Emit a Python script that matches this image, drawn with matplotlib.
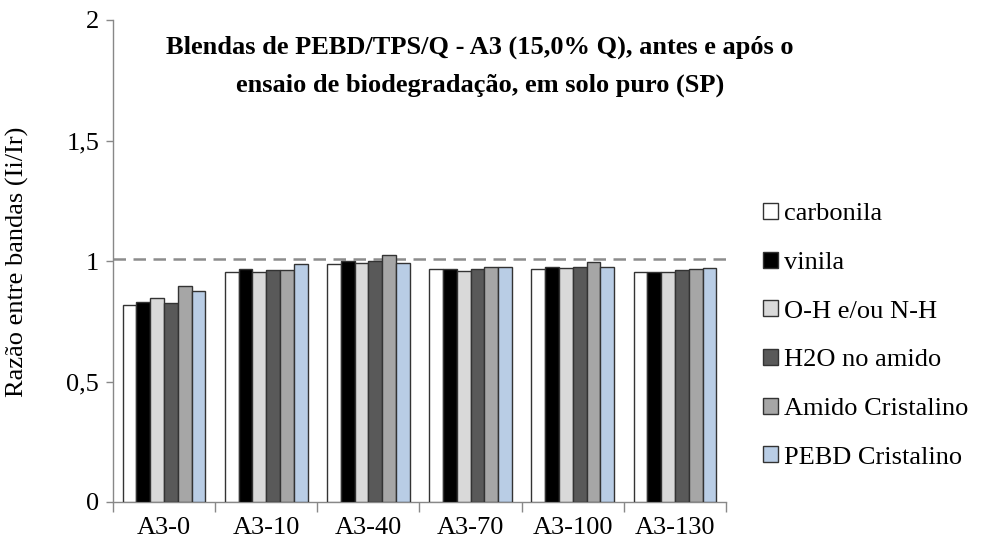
import matplotlib
matplotlib.use("Agg")
import matplotlib.pyplot as plt
import numpy as np
from matplotlib.patches import Patch

categories = ["A3-0", "A3-10", "A3-40", "A3-70", "A3-100", "A3-130"]
series_names = ["carbonila", "vinila", "O-H e/ou N-H", "H2O no amido",
                "Amido Cristalino", "PEBD Cristalino"]
carbonila = [0.818, 0.955, 0.989, 0.966, 0.966, 0.955]
vinila = [0.829, 0.966, 0.999, 0.966, 0.977, 0.955]
oh_nh = [0.848, 0.955, 0.992, 0.959, 0.972, 0.955]
h2o_amido = [0.824, 0.962, 0.999, 0.966, 0.977, 0.962]
amido_cristalino = [0.898, 0.962, 1.025, 0.977, 0.997, 0.966]
pebd_cristalino = [0.876, 0.986, 0.992, 0.977, 0.977, 0.970]
reference_level = 1.007
y_ticks = [0, 0.5, 1, 1.5, 2]
y_tick_labels = ["0", "0,5", "1", "1,5", "2"]

series = [carbonila, vinila, oh_nh, h2o_amido, amido_cristalino, pebd_cristalino]
colors = ["#ffffff", "#000000", "#d9d9d9", "#595959", "#a6a6a6", "#b9cde5"]

plt.rcParams['font.family'] = ['Liberation Serif', 'DejaVu Serif']

fig = plt.figure(figsize=(9.83, 5.46), dpi=100)
ax = fig.add_axes([113/983, 1 - 502/546, 613/983, 482/546])

x = np.arange(len(categories))
bw = 0.135
n = len(series)
for i, (vals, c) in enumerate(zip(series, colors)):
    ax.bar(x + (i - (n - 1) / 2) * bw, vals, width=bw, color=c,
           edgecolor="#333333", linewidth=1.0, zorder=3)

ax.axhline(reference_level, color="#8c8c8c", linestyle=(0, (5, 3)),
           linewidth=1.8, zorder=2)

ax.set_xlim(-0.5, len(categories) - 0.5)
ax.set_ylim(0, 2)
ax.set_yticks(y_ticks)
ax.set_yticklabels(y_tick_labels, fontsize=19)
ax.set_xticks(x)
ax.set_xticklabels(categories, fontsize=19)
ax.set_xticks(np.arange(-0.5, len(categories)), minor=True)
ax.tick_params(axis="x", which="major", length=0, pad=11)
ax.tick_params(axis="x", which="minor", length=7, color="#888888", width=1)
ax.tick_params(axis="y", length=5, color="#888888", width=1, pad=5)

for s in ["top", "right"]:
    ax.spines[s].set_visible(False)
for s in ["left", "bottom"]:
    ax.spines[s].set_color("#888888")
    ax.spines[s].set_linewidth(1)

fig.text(17/983, 1 - 262/546, "Razão entre bandas (Ii/Ir)", rotation=90,
         ha="center", va="center", fontsize=19)

fig.text(480/983, 1 - 66/546,
         "Blendas de PEBD/TPS/Q - A3 (15,0% Q), antes e após o\n"
         "ensaio de biodegradação, em solo puro (SP)",
         ha="center", va="center", fontsize=19, fontweight="bold",
         linespacing=1.8)

handles = [Patch(facecolor=c, edgecolor="#333333", linewidth=1.0) for c in colors]
fig.legend(handles, series_names, loc="upper left",
           bbox_to_anchor=(763/983, 1 - 203/546), frameon=False,
           fontsize=19, handlelength=0.55, handleheight=0.55,
           handletextpad=0.25, labelspacing=1.0, borderaxespad=0,
           borderpad=0)

fig.savefig("out.png", dpi=100)
